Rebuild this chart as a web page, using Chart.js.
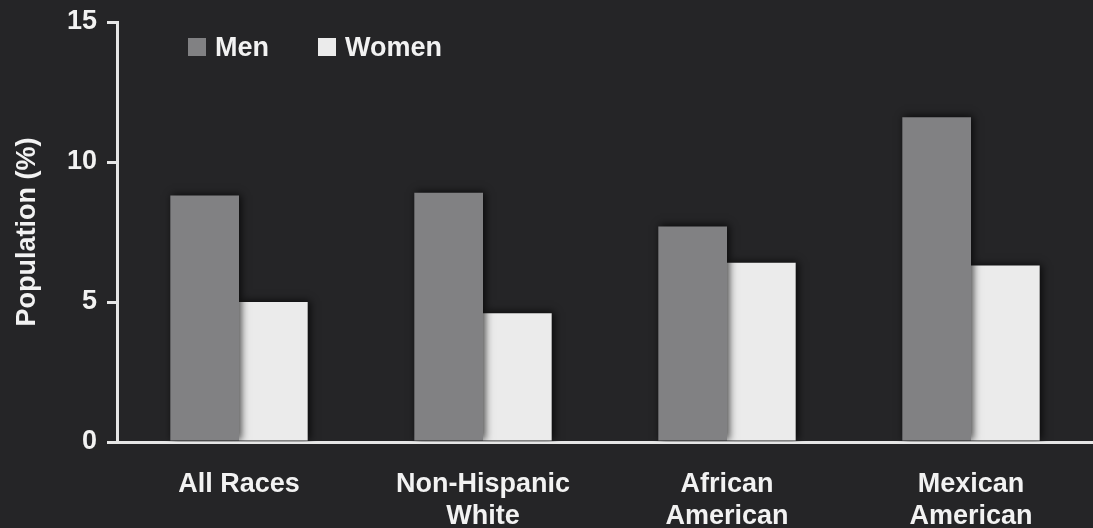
<!DOCTYPE html>
<html>
<head>
<meta charset="utf-8">
<script src="https://cdn.jsdelivr.net/npm/chart.js@4/dist/chart.umd.min.js"></script>
<style>
  html, body { margin: 0; padding: 0; background: #252527; }
  #wrap { width: 1093px; height: 528px; position: relative; }
</style>
</head>
<body>
<div id="wrap"><canvas id="popChart"></canvas></div>
<script>
const groups = [['All Races'], ['Non-Hispanic', 'White'], ['African', 'American'], ['Mexican', 'American']];
const menValues = [8.8, 8.9, 7.7, 11.6];
const womenValues = [5.0, 4.6, 6.4, 6.3];
const yTicks = [0, 5, 10, 15];

const FONT = "'Liberation Sans', Arial, sans-serif";
const AXIS_COLOR = '#e6e6e6';
const TEXT_COLOR = '#f2f2f2';

// soft dark shadow behind the bars
const barShadow = {
    id: 'barShadow',
    beforeDatasetsDraw(chart) {
        const ctx = chart.ctx;
        ctx.save();
        ctx.shadowColor = 'rgba(0,0,0,0.75)';
        ctx.shadowBlur = 8;
        ctx.shadowOffsetX = 2;
        ctx.shadowOffsetY = -1;
    },
    afterDatasetsDraw(chart) {
        chart.ctx.restore();
    }
};

// legend drawn inside the plot, top left
const innerLegend = {
    id: 'innerLegend',
    afterDraw(chart) {
        const ctx = chart.ctx;
        const area = chart.chartArea;
        let x = area.left + 71;
        const y = area.top + 26;
        ctx.save();
        ctx.font = 'bold 27px ' + FONT;
        ctx.textBaseline = 'middle';
        chart.data.datasets.forEach(ds => {
            ctx.fillStyle = ds.backgroundColor;
            ctx.fillRect(x, y - 10, 18, 18);
            ctx.fillStyle = TEXT_COLOR;
            ctx.fillText(ds.label, x + 27, y + 1);
            x += 130;
        });
        ctx.restore();
    }
};

new Chart(document.getElementById('popChart'), {
    type: 'bar',
    data: {
        labels: groups,
        datasets: [
            { label: 'Men', data: menValues, backgroundColor: '#818183' },
            { label: 'Women', data: womenValues, backgroundColor: '#ebebeb' }
        ]
    },
    options: {
        responsive: true,
        maintainAspectRatio: false,
        animation: false,
        layout: { padding: { top: 22, right: 0, left: 0, bottom: 0 } },
        datasets: {
            bar: { barPercentage: 1.0, categoryPercentage: 0.563 }
        },
        plugins: {
            legend: { display: false },
            tooltip: { enabled: false }
        },
        scales: {
            x: {
                grid: { display: false },
                border: { display: true, color: AXIS_COLOR, width: 3 },
                ticks: {
                    color: TEXT_COLOR,
                    font: { family: FONT, size: 27, weight: 'bold', lineHeight: 1.2 },
                    padding: 18,
                    maxRotation: 0
                },
                afterFit(scale) { scale.height = 86; }
            },
            y: {
                min: 0,
                max: 15,
                afterBuildTicks(scale) {
                    scale.ticks = yTicks.map(v => ({ value: v }));
                },
                grid: {
                    drawOnChartArea: false,
                    drawTicks: true,
                    tickLength: 10,
                    color: AXIS_COLOR,
                    lineWidth: 3
                },
                border: { display: true, color: AXIS_COLOR, width: 3 },
                ticks: {
                    color: TEXT_COLOR,
                    font: { family: FONT, size: 27, weight: 'bold' },
                    padding: 10
                },
                title: {
                    display: true,
                    text: 'Population (%)',
                    color: TEXT_COLOR,
                    font: { family: FONT, size: 27, weight: 'bold' },
                    padding: { top: 11, bottom: 0 }
                },
                afterFit(scale) {
                    scale.width = 117;
                    scale.paddingTop = 0;
                }
            }
        }
    },
    plugins: [barShadow, innerLegend]
});
</script>
</body>
</html>
